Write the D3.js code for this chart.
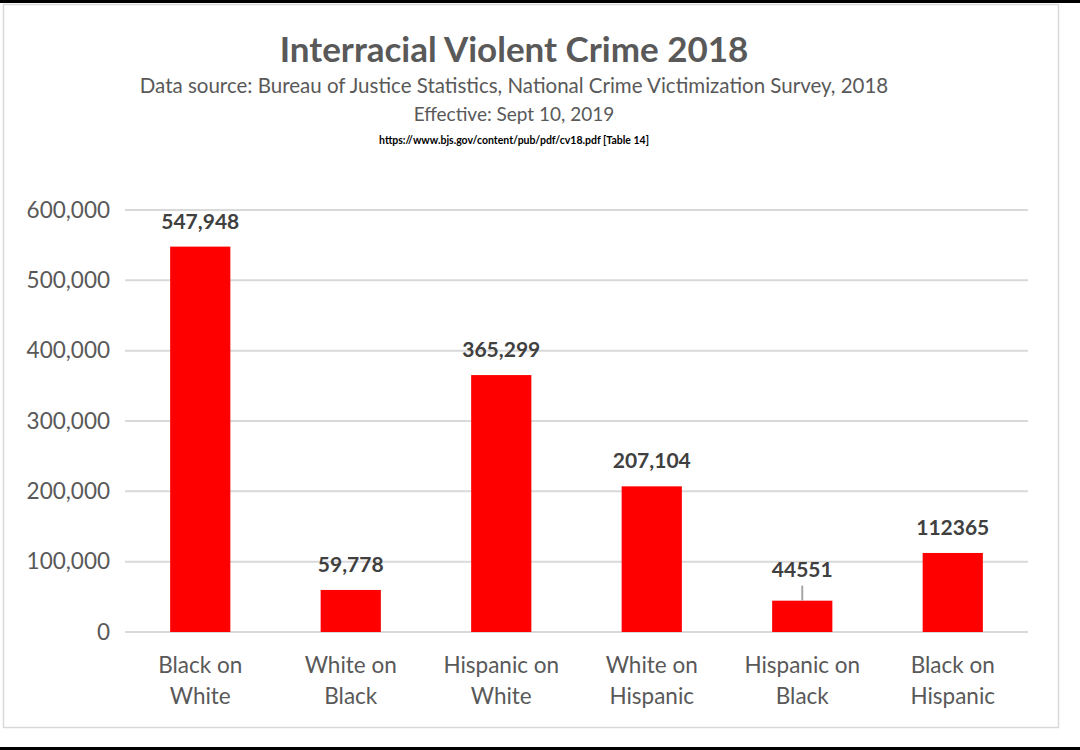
<!DOCTYPE html>
<html>
<head>
<meta charset="utf-8">
<script src="https://cdn.jsdelivr.net/npm/d3@7"></script>
<style>
  body { margin: 0; background: #fff; }
  text { font-family: Lato, "Open Sans", sans-serif; }
</style>
</head>
<body>
<script>
// chart data
var categories = ["Black on|White", "White on|Black", "Hispanic on|White", "White on|Hispanic", "Hispanic on|Black", "Black on|Hispanic"];
var values = [547948, 59778, 365299, 207104, 44551, 112365];
var valueLabels = ["547,948", "59,778", "365,299", "207,104", "44551", "112365"];
var yTicks = [0, 100000, 200000, 300000, 400000, 500000, 600000];

var W = 1080, H = 750;
var plot = {left: 125, right: 1028, top: 210, bottom: 632};

var svg = d3.select("body").append("svg")
  .attr("width", W).attr("height", H);

// frame lines
svg.append("line").attr("x1", 0).attr("x2", W).attr("y1", 1.5).attr("y2", 1.5)
  .attr("stroke", "#000").attr("stroke-width", 3);
svg.append("line").attr("x1", 0).attr("x2", W).attr("y1", 748.5).attr("y2", 748.5)
  .attr("stroke", "#000").attr("stroke-width", 3);
svg.append("rect").attr("x", 3.5).attr("y", 4.5).attr("width", 1055).attr("height", 723)
  .attr("fill", "none").attr("stroke", "#d9d9d9").attr("stroke-width", 1.5);

// titles
svg.append("text").attr("x", 514).attr("y", 62).attr("text-anchor", "middle")
  .attr("font-size", "35px").attr("font-weight", "bold").attr("fill", "#595959")
  .text("Interracial Violent Crime 2018");
svg.append("text").attr("x", 514).attr("y", 93).attr("text-anchor", "middle")
  .attr("font-size", "20.5px").attr("fill", "#595959")
  .text("Data source: Bureau of Justice Statistics, National Crime Victimization Survey, 2018");
svg.append("text").attr("x", 514).attr("y", 121).attr("text-anchor", "middle")
  .attr("font-size", "19px").attr("fill", "#595959")
  .text("Effective: Sept 10, 2019");
svg.append("text").attr("x", 514).attr("y", 144).attr("text-anchor", "middle")
  .attr("font-size", "10.5px").attr("font-weight", "bold").attr("fill", "#000")
  .text("https://www.bjs.gov/content/pub/pdf/cv18.pdf [Table 14]");

var x = d3.scaleBand().domain(categories).range([plot.left, plot.right]).paddingInner(0.6).paddingOuter(0.3);
var y = d3.scaleLinear().domain([0, 600000]).range([plot.bottom, plot.top]);

// gridlines
svg.append("g").selectAll("line").data(yTicks).enter().append("line")
  .attr("x1", plot.left).attr("x2", plot.right)
  .attr("y1", function(d) { return y(d); }).attr("y2", function(d) { return y(d); })
  .attr("stroke", "#d9d9d9").attr("stroke-width", 2);

// y axis labels
var yAxis = d3.axisLeft(y).tickValues(yTicks).tickSize(0).tickPadding(15)
  .tickFormat(d3.format(","));
var gy = svg.append("g").attr("transform", "translate(" + plot.left + ",0)").call(yAxis);
gy.select(".domain").remove();
gy.selectAll("text").attr("font-size", "22.5px").attr("fill", "#595959")
  .style("font-family", "Lato, sans-serif");

// bars
svg.append("g").selectAll("rect").data(values).enter().append("rect")
  .attr("x", function(d, i) { return x(categories[i]); })
  .attr("width", x.bandwidth())
  .attr("y", function(d) { return y(d); })
  .attr("height", function(d) { return y(0) - y(d); })
  .attr("fill", "#ff0000");

// leader line for small label
var i4 = 4;
svg.append("line")
  .attr("x1", x(categories[i4]) + x.bandwidth() / 2).attr("x2", x(categories[i4]) + x.bandwidth() / 2)
  .attr("y1", y(values[i4]) - 15).attr("y2", y(values[i4]))
  .attr("stroke", "#a6a6a6").attr("stroke-width", 2);

// value labels
svg.append("g").selectAll("text").data(values).enter().append("text")
  .attr("x", function(d, i) { return x(categories[i]) + x.bandwidth() / 2; })
  .attr("y", function(d, i) { return y(d) - (i === 4 ? 24 : 18); })
  .attr("text-anchor", "middle").attr("font-size", "21px").attr("font-weight", "bold")
  .attr("fill", "#404040")
  .text(function(d, i) { return valueLabels[i]; });

// category labels (two lines)
var gx = svg.append("g").selectAll("text").data(categories).enter().append("text")
  .attr("text-anchor", "middle").attr("font-size", "22.5px").attr("fill", "#595959")
  .attr("x", function(d) { return x(d) + x.bandwidth() / 2; });
gx.each(function(d) {
  var parts = d.split("|");
  var t = d3.select(this);
  var cx = x(d) + x.bandwidth() / 2;
  parts.forEach(function(p, k) {
    t.append("tspan").attr("x", cx).attr("y", 673 + k * 31).text(p);
  });
});
</script>
</body>
</html>
